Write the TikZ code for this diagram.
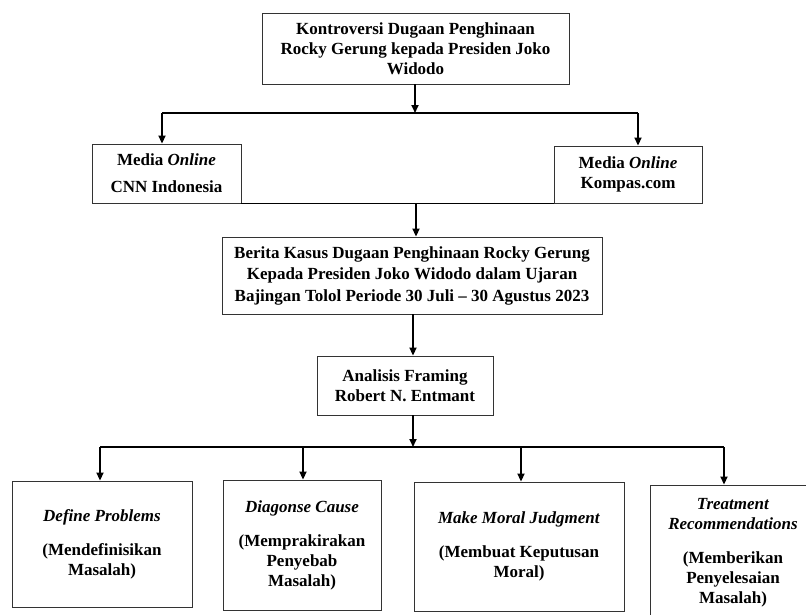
\documentclass[tikz,border=0pt]{standalone}
\usepackage{fontspec}
\setmainfont{Liberation Serif}
\usetikzlibrary{arrows.meta}
\begin{document}
\begin{tikzpicture}[x=1pt,y=-1pt,
  box/.style={draw=black!80,line width=0.9pt,rectangle,inner sep=0pt,align=center,
    font=\fontsize{17}{20}\selectfont\bfseries},
  conn/.style={line width=1.8pt,black},
  arr/.style={conn,-{Triangle[length=8pt,width=7pt]}}]
\useasboundingbox (0,0) rectangle (806,614);
\clip (0,0) rectangle (806,614);
% boxes
\node[box,minimum width=307pt,minimum height=71pt] (top) at (415.5,48.5)
  {Kontroversi Dugaan Penghinaan\\Rocky Gerung kepada Presiden Joko\\Widodo};
\node[box,minimum width=149pt,minimum height=59pt] (cnn) at (166.5,173.5)
  {Media \textit{Online}\\[7pt]CNN Indonesia};
\node[box,minimum width=148pt,minimum height=57pt] (kompas) at (628,174.5)
  {Media \textit{Online}\\Kompas.com};
\node[box,minimum width=380pt,minimum height=77pt,font=\fontsize{17}{21.5}\selectfont\bfseries] (berita) at (412,275.5)
  {Berita Kasus Dugaan Penghinaan Rocky Gerung\\Kepada Presiden Joko Widodo dalam Ujaran\\Bajingan Tolol Periode 30 Juli -- 30 Agustus 2023};
\node[box,minimum width=176pt,minimum height=59pt] (analisis) at (405,385.5)
  {Analisis Framing\\Robert N. Entmant};
\node[box,minimum width=180pt,minimum height=126pt] (b1) at (102,544)
  {\textit{Define Problems}\\[14pt](Mendefinisikan\\Masalah)};
\node[box,minimum width=158pt,minimum height=130pt] (b2) at (302,545)
  {\textit{Diagonse Cause}\\[14pt](Memprakirakan\\Penyebab\\Masalah)};
\node[box,minimum width=210pt,minimum height=129pt] (b3) at (519,546.5)
  {\textit{Make Moral Judgment}\\[14pt](Membuat Keputusan\\Moral)};
\node[box,minimum width=166pt,minimum height=136pt] (b4) at (733,553)
  {\textit{Treatment}\\\textit{Recommendations}\\[14pt](Memberikan\\Penyelesaian\\Masalah)};
% junction coordinates
\coordinate (j1) at (415,113);
\coordinate (jl) at (162,113);
\coordinate (jr) at (638,113);
\coordinate (j2) at (416,203);
\coordinate (j3) at (413,447);
\coordinate (c1) at (100,447);
\coordinate (c2) at (303,447);
\coordinate (c3) at (521,447);
\coordinate (c4) at (724,447);
% connectors
\draw[arr] (top.south -| j1) -- (j1);
\draw[conn] (jl) -- (jr);
\draw[arr] (jl) -- (jl |- cnn.north);
\draw[arr] (jr) -- (jr |- kompas.north);
\draw[conn] (cnn.south east) -- (kompas.south west);
\draw[arr] (j2) -- (j2 |- berita.north);
\draw[arr] (berita.south -| j3) -- (j3 |- analisis.north);
\draw[arr] (analisis.south -| j3) -- (j3);
\draw[conn] (c1) -- (c4);
\draw[arr] (c1) -- (c1 |- b1.north);
\draw[arr] (c2) -- (c2 |- b2.north);
\draw[arr] (c3) -- (c3 |- b3.north);
\draw[arr] (c4) -- (c4 |- b4.north);
\end{tikzpicture}
\end{document}
